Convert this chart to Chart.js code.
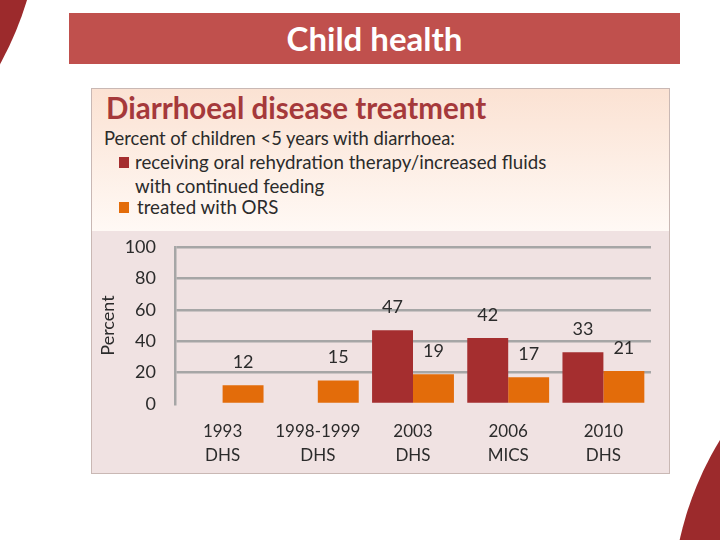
<!DOCTYPE html>
<html>
<head>
<meta charset="utf-8">
<script src="https://cdn.jsdelivr.net/npm/chart.js@4/dist/chart.umd.min.js"></script>
<style>
  html, body { margin: 0; padding: 0; background: #fff; }
  #page { position: relative; width: 720px; height: 540px; overflow: hidden; background: #fff; font-family: Lato, "Open Sans", sans-serif; }
  .deco1 { position: absolute; left: -642px; top: -442px; width: 684px; height: 684px; border-radius: 50%; background: #9C2A2C; }
  .deco2 { position: absolute; left: 672px; top: 285px; width: 650px; height: 650px; border-radius: 50%; background: #9C2A2C; }
  #header { position: absolute; left: 69px; top: 13px; width: 611px; height: 51px; background: #C0504D; color: #fff; font-weight: bold; font-size: 33px; text-align: center; line-height: 51px; }
  #panel { position: absolute; left: 91px; top: 88px; width: 577px; height: 384px; border: 1px solid #C9B8B4; }
  #top { position: absolute; left: 0; top: 0; width: 577px; height: 142px; background: linear-gradient(#FBE2D3, #FFF9F5); }
  #bottom { position: absolute; left: 0; top: 142px; width: 577px; height: 242px; background: #F0E2E2; }
  #title { position: absolute; left: 14px; top: 1px; font-size: 29.5px; font-weight: bold; color: #A5393B; white-space: nowrap; }
  .txt { position: absolute; font-size: 18.4px; color: #2b2b2b; white-space: nowrap; }
  .sw { position: absolute; width: 10px; height: 11px; }
  canvas { position: absolute; left: 0; top: 0; }
</style>
</head>
<body>
<div id="page">
  <div class="deco1"></div>
  <div class="deco2"></div>
  <div id="header">Child health</div>
  <div id="panel">
    <div id="top">
      <div id="title">Diarrhoeal disease treatment</div>
      <div class="txt" style="left:12px; top:38px;">Percent of children &lt;5 years with diarrhoea:</div>
      <div class="sw" style="left:27px; top:68px; background:#A52E2F;"></div>
      <div class="txt" style="left:43px; top:62px; font-size:18.7px;">receiving oral rehydration therapy/increased fluids</div>
      <div class="txt" style="left:43px; top:86px; font-size:18.7px;">with continued feeding</div>
      <div class="sw" style="left:27px; top:113px; background:#E36C0A;"></div>
      <div class="txt" style="left:45px; top:107px; font-size:18.7px;">treated with ORS</div>
    </div>
    <div id="bottom"></div>
  </div>
  <canvas id="c" width="720" height="540"></canvas>
</div>
<script>
const categories = [["1993", "DHS"], ["1998-1999", "DHS"], ["2003", "DHS"], ["2006", "MICS"], ["2010", "DHS"]];
const ortValues = [null, null, 47, 42, 33];
const orsValues = [12, 15, 19, 17, 21];
const seriesNames = ["receiving oral rehydration therapy/increased fluids with continued feeding", "treated with ORS"];
const yTicks = [0, 20, 40, 60, 80, 100];

const labelPlugin = {
  id: 'barLabels',
  afterDatasetsDraw(chart) {
    const ctx = chart.ctx;
    ctx.save();
    ctx.font = '18px Lato, "Open Sans", sans-serif';
    ctx.fillStyle = '#2b2b2b';
    ctx.textAlign = 'center';
    ctx.textBaseline = 'middle';
    chart.data.datasets.forEach((ds, di) => {
      const meta = chart.getDatasetMeta(di);
      meta.data.forEach((bar, i) => {
        const v = ds.data[i];
        if (v === null || v === undefined) return;
        ctx.fillText(String(v), bar.x, bar.y - 23);
      });
    });
    ctx.restore();
  }
};

new Chart(document.getElementById('c'), {
  type: 'bar',
  data: {
    labels: categories,
    datasets: [
      { label: seriesNames[0], data: ortValues, backgroundColor: '#A52E2F', categoryPercentage: 0.86, barPercentage: 1.0 },
      { label: seriesNames[1], data: orsValues, backgroundColor: '#E36C0A', categoryPercentage: 0.86, barPercentage: 1.0 }
    ]
  },
  options: {
    responsive: false,
    animation: false,
    layout: { padding: { top: 247, left: 96, right: 69, bottom: 67 } },
    plugins: { legend: { display: false }, tooltip: { enabled: false } },
    scales: {
      x: {
        grid: { display: false, drawTicks: false },
        border: { display: false },
        ticks: { color: '#2b2b2b', font: { size: 17, family: 'Lato, "Open Sans", sans-serif', lineHeight: 1.42 }, padding: 15, maxRotation: 0 },
        afterFit(scale) { scale.height = 69; }
      },
      y: {
        min: 0, max: 100,
        afterBuildTicks(scale) { scale.ticks = yTicks.map(v => ({ value: v })); },
        grid: { color: ctx => (ctx.tick && ctx.tick.value === 0) ? 'rgba(0,0,0,0)' : '#A6A6A6', lineWidth: 2.5, drawTicks: false },
        border: { display: true, color: '#A6A6A6', width: 2.5 },
        ticks: { color: '#2b2b2b', font: { size: 18, family: 'Lato, "Open Sans", sans-serif' }, padding: 19 },
        title: { display: true, text: 'Percent', color: '#2b2b2b', font: { size: 18, family: 'Lato, "Open Sans", sans-serif' }, padding: { top: 1, bottom: 0 } },
        afterFit(scale) { scale.width = 79; }
      }
    }
  },
  plugins: [labelPlugin]
});
</script>
</body>
</html>
